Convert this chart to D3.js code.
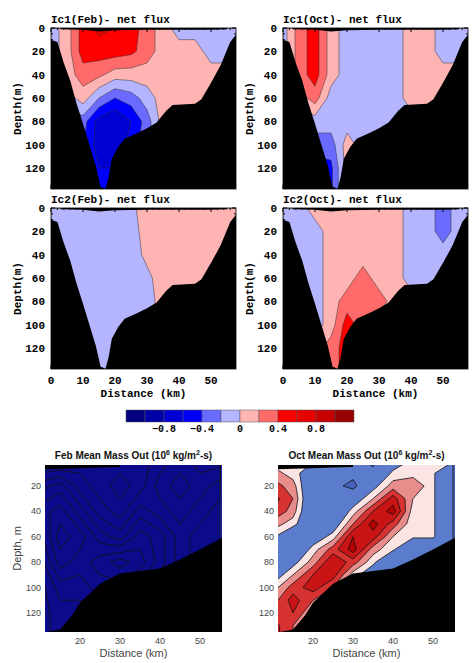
<!DOCTYPE html>
<html><head><meta charset="utf-8">
<script src="https://cdn.jsdelivr.net/npm/d3@7"></script>
<style>body{margin:0;background:#fff}svg{display:block}</style>
</head><body><svg id="c" width="474" height="663"></svg>
<script>
// ---------- DATA ----------
const topKm = [0,5,10,15,20,25,30,35,40,45,50,55,60];
const topDepth = [0,20,40,60,80,100,120,140];
const ic1Feb = [
 [-.1,.1,.5,.65,.6,.5,.3,.1,-.1,-.1,-.1,-.1,-.1],
 [-.1,.1,.5,.5,.5,.45,.3,.1,.1,.1,-.1,-.1,-.1],
 [-.1,.1,.3,.25,.1,.1,.1,.1,.1,.1,.1,.1,.1],
 [-.1,-.1,.1,-.2,-.4,-.3,-.1,.1,.1,.1,.1,.1,.1],
 [-.3,-.3,-.3,-.7,-.8,-.6,-.3,.1,.1,.1,.1,.1,.1],
 [-.3,-.3,-.4,-.7,-.8,-.5,-.3,.1,.1,.1,.1,.1,.1],
 [-.5,-.5,-.5,-.6,-.6,-.5,-.3,.1,.1,.1,.1,.1,.1],
 [-.5,-.5,-.5,-.6,-.6,-.5,-.3,.1,.1,.1,.1,.1,.1]];
const ic1Oct = [
 [-.1,.3,.5,.1,-.1,-.1,-.1,-.1,.1,.1,-.1,-.1,-.1],
 [-.1,.3,.5,.1,-.1,-.1,-.1,-.1,.1,.1,-.1,-.1,-.1],
 [-.1,.3,.5,.1,-.1,-.1,-.1,-.1,.1,.1,.1,.1,.1],
 [-.1,.1,.3,-.1,-.1,-.1,-.1,-.1,.1,.1,.1,.1,.1],
 [-.1,-.1,-.1,-.1,-.1,-.1,-.1,-.1,-.1,-.1,-.1,-.1,-.1],
 [-.3,-.3,-.3,-.3,.1,-.1,-.1,-.1,-.1,-.1,-.1,-.1,-.1],
 [-.5,-.5,-.5,-.45,.1,-.1,-.1,-.1,-.1,-.1,-.1,-.1,-.1],
 [-.5,-.5,-.5,-.45,.1,-.1,-.1,-.1,-.1,-.1,-.1,-.1,-.1]];
const ic2Feb = [
 [-.1,-.1,-.1,-.1,-.1,-.05,.1,.1,.1,.1,.1,.1,.1],
 [-.1,-.1,-.1,-.1,-.1,-.1,.1,.1,.1,.1,.1,.1,.1],
 [-.1,-.1,-.1,-.1,-.1,-.1,.05,.1,.1,.1,.1,.1,.1],
 [-.1,-.1,-.1,-.1,-.1,-.1,-.05,.1,.1,.1,.1,.1,.1],
 [-.1,-.1,-.1,-.1,-.1,-.1,-.1,.1,.1,.1,.1,.1,.1],
 [-.1,-.1,-.1,-.1,-.1,-.1,-.1,.1,.1,.1,.1,.1,.1],
 [-.1,-.1,-.1,-.1,-.1,-.1,-.1,.1,.1,.1,.1,.1,.1],
 [-.1,-.1,-.1,-.1,-.1,-.1,-.1,.1,.1,.1,.1,.1,.1]];
const ic2Oct = [
 [-.1,-.1,.1,.1,.1,.1,.1,.1,-.1,-.1,-.3,-.1,-.1],
 [-.1,-.1,-.1,.1,.1,.1,.1,.1,-.1,-.1,-.3,-.1,-.1],
 [-.1,-.1,-.1,.1,.1,.1,.1,.1,-.1,-.1,-.1,-.1,-.1],
 [-.1,-.1,-.1,.1,.1,.3,.1,.1,-.1,-.1,-.1,-.1,-.1],
 [-.1,-.1,-.1,.1,.3,.3,.3,.1,.1,.1,.1,.1,.1],
 [-.1,-.1,-.1,.1,.5,.3,.1,.1,.1,.1,.1,.1,.1],
 [.1,.1,.1,.3,.5,.3,.1,.1,.1,.1,.1,.1,.1],
 [.1,.1,.1,.3,.5,.3,.1,.1,.1,.1,.1,.1,.1]];
const topBath = [[0,10],[2,12],[4,30],[6,45],[8,65],[10,82],[12,100],[14,118],[15.5,136],[17,138],[18,128],[19,112],[21,102],[23,95],[27,90],[30,86],[33,81],[36,71],[38,66],[45,65],[47,61],[50,47],[53,32],[56,12],[58,5]];
const topSurface = [[3,1],[10,1.5],[15,3],[20,2],[30,1.5],[50,1.5],[55,1]];
const barLevels = [-1.2,-1.0,-0.8,-0.6,-0.4,-0.2,0,0.2,0.4,0.6,0.8,1.0,1.2];
const barColors = ["#000080","#0000a8","#0000d2","#0000ff","#6a6aff","#b4b4ff","#ffb4b4","#ff6a6a","#ff0000","#e60000","#c80000","#960000"];
const barTicks = [-0.8,-0.4,0,0.4,0.8];

const botKm = [10,15,20,25,30,35,40,45,50,55];
const febDepth = [0,20,40,60,80,100,120,140];
const febMass = [
 [.2,.2,.3,.3,.3,.3,.4,.5,.6,.6],
 [.5,.6,.4,.3,.4,.3,.5,.6,.5,.4],
 [.7,.8,.6,.4,.3,.5,.4,.5,.4,.3],
 [.6,.9,.8,.6,.5,.7,.6,.4,.3,.3],
 [.5,.8,.7,.8,.9,.8,.6,.4,.3,.3],
 [.4,.6,.6,.7,.7,.6,.5,.4,.3,.3],
 [.4,.5,.5,.5,.5,.5,.4,.4,.3,.3],
 [.4,.5,.5,.5,.5,.5,.4,.4,.3,.3]];
const febLevels = [.25,.35,.45,.55,.65,.75,.85];
const febColors = ["#1a2a9e","#0b0b8c","#0b0b8c","#0b0b8c","#0b0b8c","#0b0b8c","#0b0b8c","#0b0b8c"];
const octDepth = [0,10,20,30,40,50,60,70,80,90,100,110,120,130,140];
const octMassCols = [ // one array per km column
 [.05,.15,.25,.35,.3,.15,.02,-.2,-.2,-.1,.05,.15,.25,.35,.35],
 [.05,.05,.15,.2,.15,.05,-.2,-.2,-.05,.1,.25,.35,.3,.2,.2],
 [.02,-.1,-.2,-.2,-.2,-.2,-.1,.05,.15,.3,.35,.2,.1,.1,.1],
 [.02,-.2,-.2,-.2,-.2,-.1,.05,.25,.4,.35,.2,.05,.05,.05,.05],
 [-.2,-.2,-.3,-.1,.05,.2,.4,.45,.25,.05,-.1,-.1,-.1,-.1,-.1],
 [-.3,-.2,-.05,.1,.3,.45,.35,.15,.03,-.1,-.1,-.1,-.1,-.1,-.1],
 [-.1,.03,.15,.35,.45,.25,.1,.02,-.2,-.2,-.2,-.2,-.2,-.2,-.2],
 [.02,.05,.2,.1,.05,.03,.02,-.2,-.2,-.2,-.2,-.2,-.2,-.2,-.2],
 [.02,.02,.02,.02,.02,.02,.02,-.2,-.2,-.2,-.2,-.2,-.2,-.2,-.2],
 [.02,-.2,-.2,-.2,-.2,-.2,-.2,-.2,-.2,-.2,-.2,-.2,-.2,-.2,-.2]];
const octLevels = [-.25,0,.1,.2,.3,.4];
const octColors = ["#4563bb","#5b7bcc","#fbe4e4","#e88c8c","#d63232","#c81414","#b40000"];
const botBath = [[10,136],[15,133],[18,122],[20,112],[25,97],[30,89],[40,85],[45,78],[50,70],[56,60]];
const botSurface = [[10,7],[15,6.5],[20,6],[25,5.5],[30,5]];

// ---------- DRAW ----------
const svg = d3.select("#c");
let clipId = 0;
function contourPanel(g, grid, xs, ys, x, y, levels, colors, stroke, sw) {
  const n = xs.length, m = ys.length;
  const flat = [];
  for (let j = 0; j < m; j++) for (let i = 0; i < n; i++) flat.push(grid[j][i]);
  const dx = xs[1]-xs[0], dy = ys[1]-ys[0];
  const proj = d3.geoTransform({point(px, py) {
    const gx = Math.max(0, Math.min(n-1, px-0.5)), gy = Math.max(0, Math.min(m-1, py-0.5));
    this.stream.point(x(xs[0]+gx*dx), y(ys[0]+gy*dy));
  }});
  const path = d3.geoPath(proj);
  const cs = d3.contours().size([n,m]).thresholds(levels)(flat);
  g.append("rect").attr("x", x.range()[0]).attr("y", y.range()[0])
    .attr("width", x.range()[1]-x.range()[0]).attr("height", y.range()[1]-y.range()[0]).attr("fill", colors[0]);
  cs.forEach((c, k) => {
    g.append("path").attr("d", path(c)).attr("fill", colors[k+1])
      .attr("stroke", stroke).attr("stroke-width", sw).attr("stroke-linejoin","round");
  });
}
function mask(g, bath, surf, x, y, bottom) {
  const area = d3.area().x(d=>x(d[0])).y0(d=>y(d[1])).y1(y(bottom)).curve(d3.curveLinear);
  g.append("path").attr("d", area(bath)).attr("fill", "#000");
  const sa = d3.area().x(d=>x(d[0])).y0(y.range()[0]).y1(d=>y(d[1]));
  g.append("path").attr("d", sa(surf)).attr("fill", "#000");
}
function clipG(x0, y0, w, h) {
  const id = "cl" + (clipId++);
  svg.append("clipPath").attr("id", id).append("rect").attr("x",x0).attr("y",y0).attr("width",w).attr("height",h);
  return svg.append("g").attr("clip-path", `url(#${id})`);
}

const mono = "'Liberation Mono','DejaVu Sans Mono',monospace";
function topPanel(x0, y0, grid, title, showX) {
  const w = 185, h = 161;
  const x = d3.scaleLinear().domain([0,57.8]).range([x0, x0+w]);
  const y = d3.scaleLinear().domain([0,138]).range([y0, y0+h]);
  const g = clipG(x0, y0, w, h);
  contourPanel(g, grid, topKm, topDepth, x, y, barLevels.slice(1,-1), barColors, "#333", 0.5);
  mask(g, topBath, topSurface, x, y, 138);
  svg.append("rect").attr("x",x0).attr("y",y0).attr("width",w).attr("height",h).attr("fill","none").attr("stroke","#000").attr("stroke-width",0.8);
  const ax = svg.append("g").attr("font-family", mono).attr("font-weight","bold").attr("font-size",11);
  d3.range(0,139,5).forEach(d => {
    const L = d%20===0 ? 4 : 2;
    ax.append("line").attr("x1",x0).attr("x2",x0+L).attr("y1",y(d)).attr("y2",y(d)).attr("stroke","#000");
    ax.append("line").attr("x1",x0+w).attr("x2",x0+w-L).attr("y1",y(d)).attr("y2",y(d)).attr("stroke","#000");
  });
  d3.range(0,121,20).forEach(d => ax.append("text").attr("x",x0-6).attr("y",y(d)+4).attr("text-anchor","end").text(d));
  d3.range(0,58,2).forEach(d => {
    const L = d%10===0 ? 4 : 2;
    ax.append("line").attr("y1",y0+h).attr("y2",y0+h-L).attr("x1",x(d)).attr("x2",x(d)).attr("stroke","#000");
    ax.append("line").attr("y1",y0).attr("y2",y0+L).attr("x1",x(d)).attr("x2",x(d)).attr("stroke","#000");
  });
  if (showX) {
    d3.range(0,51,10).forEach(d => ax.append("text").attr("x",x(d)).attr("y",y0+h+15).attr("text-anchor","middle").text(d));
    ax.append("text").attr("x",x0+w/2).attr("y",y0+h+28).attr("text-anchor","middle").text("Distance (km)");
  }
  ax.append("text").attr("x",x0).attr("y",y0-5).text(title);
  ax.append("text").attr("transform",`translate(${x0-30},${y0+h/2}) rotate(-90)`).attr("text-anchor","middle").text("Depth(m)");
}
topPanel(51, 28, ic1Feb, "Ic1(Feb)- net flux", false);
topPanel(283, 28, ic1Oct, "Ic1(Oct)- net flux", false);
topPanel(51, 208, ic2Feb, "Ic2(Feb)- net flux", true);
topPanel(283, 208, ic2Oct, "Ic2(Oct)- net flux", true);

const cb = d3.scaleLinear().domain([-1.2,1.2]).range([126,354]);
barColors.forEach((c,i) => svg.append("rect").attr("x",cb(barLevels[i])).attr("y",410)
  .attr("width",cb(barLevels[i+1])-cb(barLevels[i])).attr("height",12).attr("fill",c).attr("stroke","#555").attr("stroke-width",0.5));
barTicks.forEach(t => svg.append("text").attr("x",cb(t)).attr("y",432).attr("text-anchor","middle")
  .attr("font-family",mono).attr("font-weight","bold").attr("font-size",10).text(t===0?"0":(t<0?"\u2212":"")+Math.abs(t).toFixed(1)));

const sans = "'Liberation Sans',Arial,sans-serif";
function botPanel(x0, grid, ys, levels, colors, title, ylabel) {
  const y0 = 465, w = 177, h = 167;
  const x = d3.scaleLinear().domain([11.25,55.5]).range([x0,x0+w]);
  const y = d3.scaleLinear().domain([3.5,135]).range([y0,y0+h]);
  const g = clipG(x0,y0,w,h);
  contourPanel(g, grid, botKm, ys, x, y, levels, colors, "#111", 0.8);
  mask(g, botBath, botSurface, x, y, 135);
  const ax = svg.append("g").attr("font-family",sans).attr("font-size",9).attr("fill","#444");
  [20,30,40,50].forEach(d => ax.append("text").attr("x",x(d)).attr("y",y0+h+12).attr("text-anchor","middle").text(d));
  [20,40,60,80,100,120].forEach(d => ax.append("text").attr("x",x0-4).attr("y",y(d)+3).attr("text-anchor","end").text(d));
  ax.append("text").attr("x",x0+w/2).attr("y",y0+h+25).attr("text-anchor","middle").attr("font-size",11).text("Distance (km)");
  if (ylabel) ax.append("text").attr("transform",`translate(${x0-24},${y0+h/2}) rotate(-90)`).attr("text-anchor","middle").attr("font-size",11).text("Depth, m");
  const t = svg.append("text").attr("x",x0+w/2).attr("y",y0-6).attr("text-anchor","middle")
    .attr("font-family",sans).attr("font-weight","bold").attr("font-size",10).attr("fill","#111");
  t.append("tspan").text(title+" (10");
  t.append("tspan").attr("font-size",7).attr("dy",-4).text("6");
  t.append("tspan").attr("dy",4).text(" kg/m");
  t.append("tspan").attr("font-size",7).attr("dy",-4).text("2");
  t.append("tspan").attr("dy",4).text("-s)");
}
botPanel(45, febMass, febDepth, febLevels, febColors, "Feb Mean Mass Out", true);
const octMass = octDepth.map((d,j) => botKm.map((k,i) => octMassCols[i][j]));
botPanel(278, octMass, octDepth, octLevels, octColors, "Oct Mean Mass Out", false);
</script></body></html>
